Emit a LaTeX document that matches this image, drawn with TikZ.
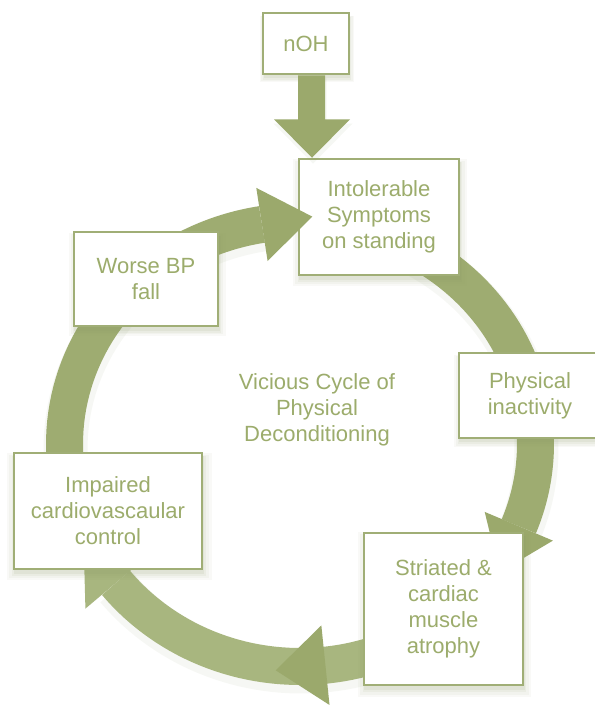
\documentclass[tikz,border=0pt]{standalone}
\usepackage{fontspec}
\setmainfont{Liberation Sans}
\usetikzlibrary{shadows,calc}
\definecolor{ringc}{RGB}{158,172,113}
\definecolor{ringl}{RGB}{168,182,127}
\definecolor{headc}{RGB}{155,169,108}
\definecolor{boxc}{RGB}{160,174,118}
\definecolor{textc}{RGB}{156,172,108}
\definecolor{shc}{RGB}{140,155,105}
\newcommand\ringhead[4]{%
  \pgfmathsetmacro\hmx{300+235.5*cos(#1)}%
  \pgfmathsetmacro\hmy{444+222.5*sin(#1)}%
  \pgfmathsetmacro\htxa{-sin(#1)}%
  \pgfmathsetmacro\htya{(222.5/235.5)*cos(#1)}%
  \pgfmathsetmacro\hnn{sqrt(\htxa*\htxa+\htya*\htya)}%
  \pgfmathsetmacro\htx{\htxa/\hnn}%
  \pgfmathsetmacro\hty{\htya/\hnn}%
  \fill[#4] (\hmx+#2*\hty, \hmy-#2*\htx) -- (\hmx+#3*\htx, \hmy+#3*\hty) -- (\hmx-#2*\hty, \hmy+#2*\htx) -- cycle;%
}
\begin{document}
\begin{tikzpicture}[x=1pt,y=-1pt,
  softshadow/.style={
    general shadow={fill=shc, opacity=.05, shadow xshift=1pt, shadow yshift=-5pt, shadow scale=1.09},
    general shadow={fill=shc, opacity=.06, shadow xshift=1pt, shadow yshift=-5pt, shadow scale=1.06},
    general shadow={fill=shc, opacity=.08, shadow xshift=1pt, shadow yshift=-5pt, shadow scale=1.03},
    general shadow={fill=shc, opacity=.10, shadow xshift=1pt, shadow yshift=-4pt, shadow scale=1.01}},
  box/.style={draw=boxc, line width=2.5pt, fill=white, text=textc, align=center,
    inner sep=0pt, font=\fontsize{22}{26}\selectfont, softshadow},
  band/.style={draw=ringc, line width=37pt, line cap=butt},
  bandshadow/.style={draw=shc, line width=44pt, opacity=.07, line cap=butt},
  lbl/.style={text=textc, align=center, font=\fontsize{22}{26}\selectfont}
]
\useasboundingbox (0,0) rectangle (595,705);
\fill[white] (0,0) rectangle (595,705);

% ring shadows
\begin{scope}[shift={(1,5)}]
\draw[bandshadow] plot[domain=280:352, samples=40] ({300+235.5*cos(\x)},{444+222.5*sin(\x)});
\draw[bandshadow] plot[domain=-8:21.7, samples=30] ({300+235.5*cos(\x)},{444+222.5*sin(\x)});
\draw[bandshadow] plot[domain=50:141.4, samples=50] ({300+235.5*cos(\x)},{444+222.5*sin(\x)});
\draw[bandshadow] plot[domain=165:225, samples=30] ({300+235.5*cos(\x)},{444+222.5*sin(\x)});
\draw[bandshadow] plot[domain=230:260.7, samples=30] ({300+235.5*cos(\x)},{444+222.5*sin(\x)});
\end{scope}

% ring bands
\draw[band] plot[domain=280:352, samples=40] ({300+235.5*cos(\x)},{444+222.5*sin(\x)});
\draw[band] plot[domain=-8:21.7, samples=30] ({300+235.5*cos(\x)},{444+222.5*sin(\x)});
\draw[band, draw=ringl] plot[domain=50:141.4, samples=50] ({300+235.5*cos(\x)},{444+222.5*sin(\x)});
\draw[band] plot[domain=165:225, samples=30] ({300+235.5*cos(\x)},{444+222.5*sin(\x)});
\draw[band] plot[domain=230:260.7, samples=30] ({300+235.5*cos(\x)},{444+222.5*sin(\x)});

% heads hidden partly by boxes
\ringhead{21.7}{37}{50}{headc}
\ringhead{83.8}{40}{50}{headc}
\ringhead{141.4}{40}{50}{ringl}

% boxes
\node[box, minimum width=86pt, minimum height=61pt] (noh) at (306,43.5) {nOH};
\node[box, minimum width=160pt, minimum height=116pt] (intol) at (379,217) {Intolerable\\Symptoms\\on standing};
\node[box, minimum width=144pt, minimum height=94pt] (worse) at (146,279) {Worse BP\\fall};
\node[box, minimum width=142pt, minimum height=85pt] (phys) at (530,395.5) {Physical\\inactivity};
\node[box, minimum width=159pt, minimum height=152pt] (stri) at (443.5,609) {Striated \&\\cardiac\\muscle\\atrophy};
\node[box, minimum width=188pt, minimum height=116pt] (imp) at (108,511) {Impaired\\cardiovascaular\\control};

% nOH arrow
\coordinate (nohtip) at (intol.north -| 312,0);
\fill[headc, general shadow={fill=shc, opacity=.08, shadow xshift=1pt, shadow yshift=-4pt, shadow scale=1.04}]
  ($(noh.south -| nohtip)+(-14,0)$) -- ($(noh.south -| nohtip)+(-14,44)$) -- ($(noh.south -| nohtip)+(-38,44)$)
  -- (nohtip) -- ($(noh.south -| nohtip)+(38,44)$) -- ($(noh.south -| nohtip)+(13,44)$) -- ($(noh.south -| nohtip)+(13,0)$) -- cycle;

% head into Intolerable (drawn over box)
\ringhead{260.7}{37}{51}{headc}

% centre label
\node[lbl] (centre) at (317,410) {Vicious Cycle of\\Physical\\Deconditioning};
\end{tikzpicture}
\end{document}
